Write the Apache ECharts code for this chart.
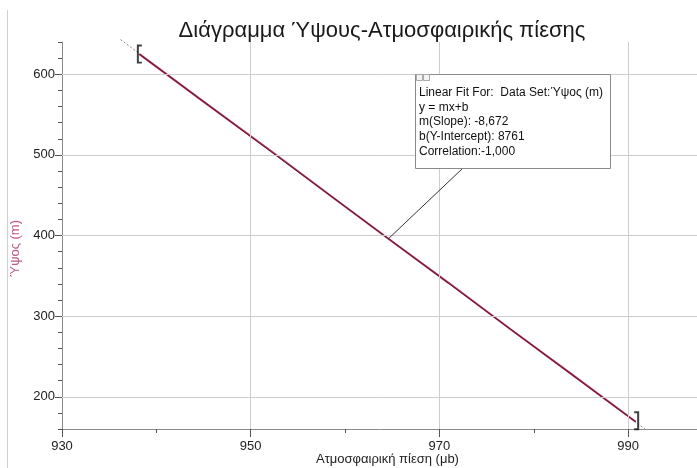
<!DOCTYPE html>
<html>
<head>
<meta charset="utf-8">
<script src="https://cdn.jsdelivr.net/npm/echarts@6/dist/echarts.min.js"></script>
<style>
  html, body { margin: 0; padding: 0; background: #fff; }
  #chart { width: 697px; height: 468px; }
</style>
</head>
<body>
<div id="chart"></div>
<script>
// measured pressure (μb) and altitude (m)
const pressure = [938.2, 945.0, 952.0, 958.5, 964.7, 971.0, 977.5, 984.0, 990.8]
const altitude = [625, 566, 506, 449, 395, 341, 284, 228, 169]

// linear fit y = mx + b, drawn end to end (dotted outside data, solid over data)
const fitExtent = [[936.2, 643], [992.0, 158]]
const fitOverData = [[938.2, 625.0], [990.8, 168.8]]
const fitAnchor = [964.6, 396]

const xMajor = [930, 950, 970, 990]
const yMajor = [200, 300, 400, 500, 600]
const xGridLines = [950, 970, 990]
const yGridLines = [200, 300, 400, 500, 600]

const fitText = [
    'Linear Fit For:  Data Set:Ύψος (m)',
    'y = mx+b',
    'm(Slope): -8,672',
    'b(Y-Intercept): 8761',
    'Correlation:-1,000',
]

const FONT = 'Liberation Sans, Arial, sans-serif'
const AXIS_COLOR = '#8a8a8a'
const GRID_COLOR = '#cdcdcd'

const points = pressure.map((p, i) => [p, altitude[i]])

const chart = echarts.init(document.getElementById('chart'))

const option = {
    animation: false,
    textStyle: { fontFamily: FONT },
    title: {
        text: 'Διάγραμμα Ύψους-Ατμοσφαιρικής πίεσης',
        left: 377,
        textAlign: 'center',
        top: 15,
        textStyle: { fontFamily: FONT, fontSize: 22, fontWeight: 'normal', color: '#1a1a1a' },
    },
    grid: { left: 62, right: 0, top: 42, bottom: 39, outerBoundsMode: 'none', containLabel: false },
    xAxis: [
        {
            type: 'value',
            min: 930,
            max: 997.3,
            name: 'Ατμοσφαιρική πίεση (μb)',
            nameLocation: 'middle',
            nameGap: 24,
            nameMoveOverlap: false,
            nameTextStyle: { fontSize: 13, color: '#222', padding: [0, 0, 0, 16] },
            axisLine: { show: true, lineStyle: { color: AXIS_COLOR } },
            axisTick: { show: true, customValues: xMajor, length: 8, lineStyle: { color: '#555' } },
            axisLabel: { customValues: xMajor, margin: 11, fontSize: 13, color: '#222' },
            splitLine: { show: false },
        },
        {
            // minor ticks only
            type: 'value',
            position: 'bottom',
            min: 930,
            max: 997.3,
            interval: 10,
            axisLine: { show: false },
            axisTick: { show: true, length: 4, lineStyle: { color: '#555' } },
            axisLabel: { show: false },
            splitLine: { show: false },
        },
    ],
    yAxis: [
        {
            type: 'value',
            min: 160,
            max: 640,
            name: 'Ύψος (m)',
            nameLocation: 'middle',
            nameGap: 40,
            nameMoveOverlap: false,
            nameTextStyle: { fontSize: 13, color: '#bd5a8c', padding: [0, 26, 0, 0] },
            axisLine: { show: true, lineStyle: { color: AXIS_COLOR } },
            axisTick: { show: true, customValues: yMajor, length: 7, lineStyle: { color: '#555' } },
            axisLabel: { customValues: yMajor, margin: 7, fontSize: 13, color: '#222' },
            splitLine: { show: false },
        },
        {
            // minor ticks only
            type: 'value',
            position: 'left',
            min: 160,
            max: 640,
            interval: 20,
            axisLine: { show: false },
            axisTick: { show: true, length: 4, lineStyle: { color: '#555' } },
            axisLabel: { show: false },
            splitLine: { show: false },
        },
    ],
    series: [
        {
            name: 'grid',
            type: 'line',
            data: [],
            z: 1,
            silent: true,
            markLine: {
                silent: true,
                symbol: 'none',
                label: { show: false },
                lineStyle: { color: GRID_COLOR, type: 'solid', width: 1 },
                data: xGridLines.map(v => ({ xAxis: v })).concat(yGridLines.map(v => ({ yAxis: v }))),
            },
        },
        {
            name: 'fitExtent',
            type: 'line',
            data: fitExtent,
            clip: false,
            z: 2,
            symbol: 'none',
            lineStyle: { color: '#888', width: 1, type: [2, 2] },
        },
        {
            name: 'Ύψος (m)',
            type: 'line',
            data: points,
            z: 3,
            symbol: 'none',
            lineStyle: { color: '#b8305a', width: 2 },
        },
        {
            name: 'fit',
            type: 'line',
            data: fitOverData,
            z: 4,
            symbol: 'none',
            lineStyle: { color: '#111', width: 0.8, opacity: 0.75 },
        },
        {
            name: 'brackets',
            type: 'scatter',
            z: 5,
            silent: true,
            symbolSize: [5, 19],
            itemStyle: { color: '#111' },
            data: [
                { value: points[0], symbol: 'path://M0,0 H5 V2 H2 V18 H5 V20 H0 Z', symbolOffset: [0, 0] },
                { value: points[points.length - 1], symbol: 'path://M0,0 H5 V20 H0 V18 H3 V2 H0 Z', symbolOffset: [1, -1] },
            ],
        },
    ],
}

chart.setOption(option)

// annotation box for the fit, with a leader line to the fit line
const box = { x: 415, y: 74, w: 195, h: 94 }
const anchor = chart.convertToPixel({ xAxisIndex: 0, yAxisIndex: 0 }, fitAnchor)

chart.setOption({
    graphic: [
        {
            type: 'line',
            silent: true,
            shape: { x1: 7.5, y1: 10, x2: 7.5, y2: 468 },
            style: { stroke: '#cfcfcf', lineWidth: 1 },
        },
        {
            type: 'line',
            silent: true,
            z: 10,
            shape: { x1: 463, y1: box.y + box.h, x2: anchor[0], y2: anchor[1] },
            style: { stroke: '#333', lineWidth: 1 },
        },
        {
            type: 'rect',
            silent: true,
            z: 10,
            shape: { x: box.x + 0.5, y: box.y + 0.5, width: box.w, height: box.h },
            style: { fill: '#fff', stroke: '#8a8a8a', lineWidth: 1 },
        },
        {
            type: 'rect',
            silent: true,
            z: 11,
            shape: { x: box.x + 1.5, y: box.y + 0.5, width: 6, height: 6 },
            style: { fill: '#f4f4f4', stroke: '#aaa', lineWidth: 1 },
        },
        {
            type: 'rect',
            silent: true,
            z: 11,
            shape: { x: box.x + 8.5, y: box.y + 0.5, width: 6, height: 6 },
            style: { fill: '#f4f4f4', stroke: '#aaa', lineWidth: 1 },
        },
        {
            type: 'text',
            silent: true,
            z: 11,
            left: box.x + 4,
            top: box.y + 11,
            style: {
                text: fitText.join('\n'),
                font: '12px ' + FONT,
                lineHeight: 14.8,
                fill: '#111',
            },
        },
    ],
})
</script>
</body>
</html>
